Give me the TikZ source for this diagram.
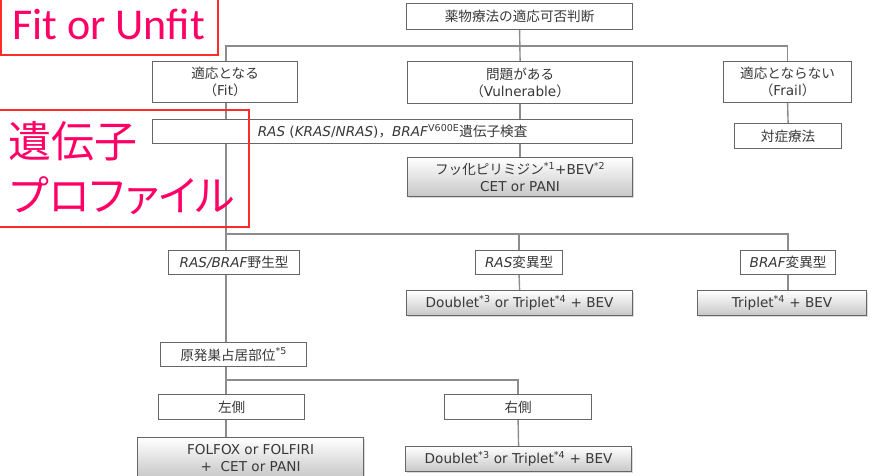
\documentclass[tikz,border=0pt]{standalone}
\usepackage{fontspec}
\setmainfont{DejaVu Sans}
\newfontfamily\jpfont{Noto Sans CJK JP}
\newfontfamily\jppfont[RawFeature=+palt]{Noto Sans CJK JP}
\newfontfamily\carlfont{Carlito}
\newcommand\jtxt[1]{{\jpfont #1}}
\usetikzlibrary{backgrounds,shadows}
\definecolor{txt}{HTML}{383838}
\definecolor{edgec}{HTML}{666666}
\definecolor{connc}{HTML}{8C8C8C}
\definecolor{pinkc}{HTML}{FF0066}
\definecolor{redc}{HTML}{FF2A2A}
\tikzset{
  box/.style={draw=edgec, line width=1.2pt, fill=white, text=txt, anchor=north west,
    inner sep=0pt, align=center, font=\fontsize{13.6}{17}\selectfont},
  gbox/.style={box, top color=white, bottom color=black!22,
    drop shadow={opacity=0.3, shadow xshift=1pt, shadow yshift=-1.5pt}},
  conn/.style={draw=connc, line width=1.4pt},
  redbox/.style={draw=redc, line width=1.2pt},
  bigtext/.style={text=pinkc, anchor=base west, inner sep=0pt}
}
\begin{document}
\begin{tikzpicture}[x=1pt,y=-1pt]
\useasboundingbox (0,0) rectangle (877,475);
% boxes
\node[box, minimum width=226, minimum height=26] (top) at (406,3) {\jtxt{薬物療法の適応可否判断}};
\node[box, minimum width=145, minimum height=41] (fit) at (152,61) {\jtxt{適応となる}\\\jtxt{（}Fit\jtxt{）}};
\node[box, minimum width=225, minimum height=42] (vul) at (407,61) {\jtxt{問題がある}\\\jtxt{（}Vulnerable\jtxt{）}};
\node[box, minimum width=128, minimum height=41] (frail) at (723,61) {\jtxt{適応とならない}\\\jtxt{（}Frail\jtxt{）}};
\node[box, minimum width=480, minimum height=24] (gene) at (152,119) {\textit{RAS} (\textit{KRAS}/\textit{NRAS})\jtxt{，}\textit{BRAF}\textsuperscript{V600E}\jtxt{遺伝子検査}};
\node[box, minimum width=107, minimum height=25] (symp) at (734,123) {\jtxt{対症療法}};
\node[gbox, minimum width=225, minimum height=39] (fu) at (407,157) {\jtxt{フッ化ピリミジン}\textsuperscript{*1}+BEV\textsuperscript{*2}\\CET or PANI};
\node[box, minimum width=131, minimum height=24] (wt) at (168,250) {\textit{RAS/BRAF}\jtxt{野生型}};
\node[box, minimum width=87, minimum height=24] (rasm) at (475,250) {\textit{RAS}\jtxt{変異型}};
\node[box, minimum width=95, minimum height=24] (brafm) at (740,250) {\textit{BRAF}\jtxt{変異型}};
\node[gbox, minimum width=226, minimum height=25] (d1) at (406,290) {Doublet\textsuperscript{*3} or Triplet\textsuperscript{*4} + BEV};
\node[gbox, minimum width=169, minimum height=25] (trip) at (697,290) {Triplet\textsuperscript{*4} + BEV};
\node[box, minimum width=146, minimum height=24] (prim) at (160,342) {\jtxt{原発巣占居部位}\textsuperscript{*5}};
\node[box, minimum width=146, minimum height=25] (lft) at (158,394) {\jtxt{左側}};
\node[box, minimum width=147, minimum height=25] (rgt) at (444,394) {\jtxt{右側}};
\node[gbox, minimum width=226, minimum height=40] (folf) at (137,437) {FOLFOX or FOLFIRI\\+\ \ CET or PANI};
\node[gbox, minimum width=226, minimum height=25] (d2) at (405,446) {Doublet\textsuperscript{*3} or Triplet\textsuperscript{*4} + BEV};
% connectors
\coordinate (trk) at (226,0);
\coordinate (h1) at (226,46);
\coordinate (h2) at (226,234);
\coordinate (h3) at (226,380);
\begin{pgfonlayer}{background}
\draw[conn] (top.south) -- (vul.north);
\draw[conn] (trk |- fit.north) -- (h1) -| (frail.north);
\draw[conn] (vul.south) -- (vul.south |- gene.north);
\draw[conn] (vul.south |- gene.south) -- (fu.north);
\draw[conn] (frail.south) -- (symp.north);
\draw[conn] (trk |- fit.south) -- (trk |- folf.north);
\draw[conn] (h2) -| (brafm.north);
\draw[conn] (rasm.north) -- (rasm.north |- h2);
\draw[conn] (rasm.south) -- (d1.north);
\draw[conn] (brafm.south) -- (brafm.south |- trip.north);
\draw[conn] (h3) -| (rgt.north);
\draw[conn] (rgt.south) -- (d2.north);
\end{pgfonlayer}
% red annotation labels
\draw[redbox] (1,-2) rectangle (218,55);
\node[bigtext, font=\carlfont\fontsize{44}{44}\selectfont] (fu1) at (12,39.5) {Fit or Unfit};
\draw[redbox] (-2,110) rectangle (249,227);
\node[bigtext, font=\jpfont\fontsize{43}{43}\selectfont] (g1) at (8,157) {遺伝子};
\node[bigtext, font=\jppfont\fontsize{42}{42}\selectfont] (g2) at (10,211) {プロファイル};
\end{tikzpicture}
\end{document}
